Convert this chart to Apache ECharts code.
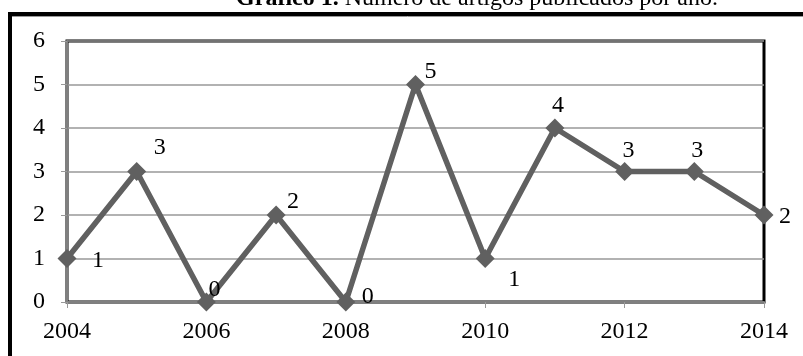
<!DOCTYPE html>
<html><head><meta charset="utf-8">
<script src="https://cdn.jsdelivr.net/npm/echarts@6/dist/echarts.min.js"></script>
<style>html,body{margin:0;padding:0;background:#fff}#c{width:803px;height:356px}</style>
</head><body><div id="c"></div>
<script>
const years = [2004, 2005, 2006, 2007, 2008, 2009, 2010, 2011, 2012, 2013, 2014];
const counts = [1, 3, 0, 2, 0, 5, 1, 4, 3, 3, 2];
const titleBold = 'Gráfico 1.';
const titleRest = ' Número de artigos publicados por año.';
// label placement (style only)
const labelOffsets = [[31,2],[23,-24],[8,-12],[17,-13],[22,-5],[15,-13],[29,21],[3,-22],[4,-21],[3,-21],[21,2]];

const chart = echarts.init(document.getElementById('c'), null, {renderer:'canvas'});
const font = 'Liberation Serif';
chart.setOption({
  animation:false,
  textStyle:{fontFamily:font},
  grid:{left:67,right:39,top:41,bottom:54,show:true,borderColor:'#000',borderWidth:3,backgroundColor:'transparent'},
  graphic:[
    {type:'rect',shape:{x:10,y:14,width:820,height:400},style:{fill:null,stroke:'#000',lineWidth:4},z:-1},
    {type:'line',shape:{x1:12,y1:16.5,x2:803,y2:16.5},style:{stroke:'#999',lineWidth:1}},
    {type:'text',x:477,y:11,style:{
      text:'{b|'+titleBold+'}{n|'+titleRest+'}',align:'center',verticalAlign:'bottom',
      rich:{b:{fontFamily:font,fontWeight:'bold',fontSize:24,fill:'#000'},n:{fontFamily:font,fontSize:24,fill:'#000'}}
    }}
  ],
  xAxis:{type:'value',min:2004,max:2014,interval:2,
    axisLine:{show:true,lineStyle:{color:'#808080',width:2}},
    axisTick:{show:true,length:6,lineStyle:{color:'#999',width:1}},
    axisLabel:{fontFamily:font,fontSize:24,color:'#000',margin:18,formatter:v=>String(v)},
    splitLine:{show:false}},
  yAxis:{type:'value',min:0,max:6,interval:1,
    axisLine:{show:true,lineStyle:{color:'#808080',width:2}},
    axisTick:{show:true,length:6,lineStyle:{color:'#999',width:1}},
    axisLabel:{fontFamily:font,fontSize:24,color:'#000',margin:22},
    splitLine:{show:true,lineStyle:{color:'#999',width:1.5}}},
  series:[{
    type:'line',
    data:years.map((y,i)=>({value:[y,counts[i]],label:{offset:labelOffsets[i]}})),
    symbol:'diamond',symbolSize:19,
    lineStyle:{color:'#606060',width:5.5},
    itemStyle:{color:'#606060'},
    label:{show:true,position:'inside',fontFamily:font,fontSize:24,color:'#000',formatter:p=>p.value[1]},
    z:5
  }]
});
</script></body></html>
